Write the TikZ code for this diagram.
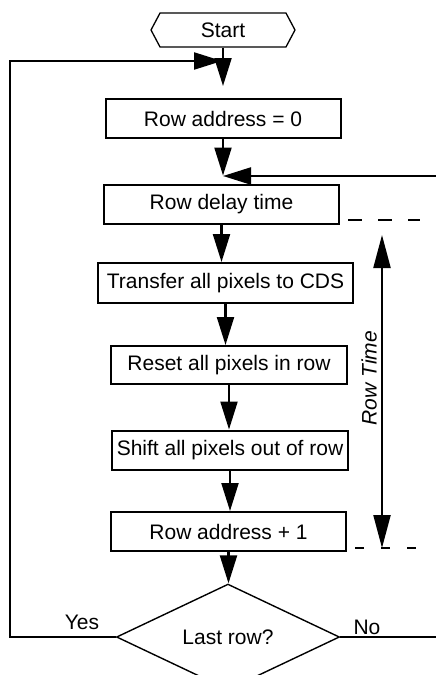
\documentclass[tikz,border=0pt]{standalone}
\usepackage{fontspec}
\setmainfont{Liberation Sans}
\usetikzlibrary{arrows.meta,shapes.geometric,shapes.symbols}
\tikzset{
    node style box/.style={draw,rectangle,line width=2pt,minimum width=235pt,minimum height=39pt,inner sep=2pt},
    node style start/.style={draw,signal,signal to=west and east,signal pointer angle=124,line width=1.3pt,minimum width=144pt,minimum height=34pt,inner sep=0pt},
    node style dec/.style={draw,diamond,line width=1.4pt,minimum width=223pt,minimum height=84pt,inner sep=0pt},
    arrow style flow/.style={-{Triangle[width=17pt,length=28pt]},line width=2.2pt},
    arrow style time/.style={{Triangle[width=17pt,length=33pt]}-{Triangle[width=17pt,length=33pt]},line width=2.2pt},
    line style dash/.style={line width=1.8pt,dash pattern=on 14pt off 16pt},
}

\begin{document}
\begin{tikzpicture}[x=1pt,y=-1pt,font=\fontsize{21}{25}\selectfont]
\useasboundingbox (0,0) rectangle (436,675);

\node [node style start] (start) at (223,30) {Start};
\node [node style box] (addr0) at (223,118.5) {Row address = 0};
\node [node style box] (delay) at (221.5,204) {Row delay time};
\node [node style box,minimum width=255pt,minimum height=40pt] (transfer) at (225.5,283) {Transfer all pixels to CDS};
\node [node style box,minimum width=236pt,minimum height=38pt] (reset) at (229,365) {Reset all pixels in row};
\node [node style box,minimum width=236pt] (shift) at (230,450) {Shift all pixels out of row};
\node [node style box] (addr1) at (228.5,531.5) {Row address + 1};
\node [node style dec] (last) at (228,637) {Last row?};

\node (yes) at (82,622) {Yes};
\node (no) at (367,627) {No};
\node [rotate=90,font=\fontsize{21}{25}\selectfont\itshape] (rowtime) at (369,378) {Row Time};

\coordinate (loopin) at (222,61);
\coordinate (noin) at (223,176);

% main flow
\draw [arrow style flow,shorten >=12pt] (start.south) -- (start.south |- addr0.north);
\draw [arrow style flow,shorten >=8pt] (addr0.south) -- (addr0.south |- delay.north);
\draw [arrow style flow] (delay.south) -- (delay.south |- transfer.north);
\draw [arrow style flow] (transfer.south) -- (transfer.south |- reset.north);
\draw [arrow style flow] (reset.south) -- (reset.south |- shift.north);
\draw [arrow style flow] (shift.south) -- (shift.south |- addr1.north);
\draw [arrow style flow] (addr1.south) -- (addr1.south |- last.north);

% loops
\draw [arrow style flow] (last.west) -- (10,637) |- (loopin);
\draw [arrow style flow] (last.east) -- (445,637) |- (noin);

% row time
\draw [line style dash] (348,220) -- (420,220);
\draw [line style dash,dash pattern=on 9pt off 17pt] (355,548) -- (424,548);
\draw [arrow style time] (382,235) -- (382,548);

\end{tikzpicture}
\end{document}
